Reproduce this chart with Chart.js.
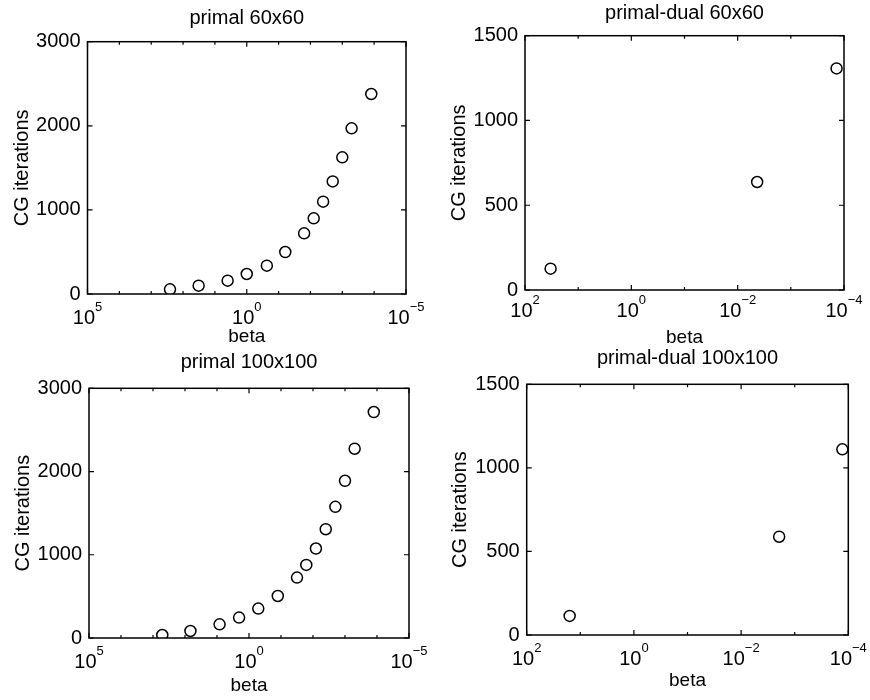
<!DOCTYPE html>
<html><head><meta charset="utf-8">
<script src="https://cdn.jsdelivr.net/npm/chart.js@4.4.0/dist/chart.umd.min.js"></script>
<style>
html,body{margin:0;padding:0;background:#fff;}
#wrap{position:relative;width:870px;height:700px;}
canvas{position:absolute;left:0;top:0;}
</style></head><body>
<div id="wrap">
<canvas id="c1" width="870" height="700"></canvas>
<canvas id="c2" width="870" height="700"></canvas>
<canvas id="c3" width="870" height="700"></canvas>
<canvas id="c4" width="870" height="700"></canvas>
</div>
<script>
// ---- data ----
const betaPrimal60 = [257, 32.4, 3.98, 1.0, 0.234, 0.0617, 0.0158, 0.0079, 0.0040, 0.0020, 0.0010, 0.00051, 0.000123];
const iterPrimal60 = [55, 99, 159, 238, 337, 499, 721, 900, 1098, 1339, 1625, 1970, 2378];
const betaPrimal100 = [513, 67.6, 8.3, 2.04, 0.513, 0.126, 0.0316, 0.0162, 0.0081, 0.0040, 0.0020, 0.0010, 0.0005, 0.000126];
const iterPrimal100 = [36, 84, 164, 245, 353, 505, 726, 878, 1075, 1307, 1576, 1889, 2274, 2715];
const betaPD60 = [33, 0.0043, 0.000138];
const iterPD60 = [126, 637, 1307];
const betaPD100 = [15.8, 0.00195, 0.000129];
const iterPD100 = [114, 588, 1111];

// ---- ticks ----
const xTicksPrimal = [1e5, 1e4, 1e3, 1e2, 1e1, 1e0, 1e-1, 1e-2, 1e-3, 1e-4, 1e-5];
const xLabelExpPrimal = [5, 0, -5];
const xTicksPD = [1e2, 1e1, 1e0, 1e-1, 1e-2, 1e-3, 1e-4];
const xLabelExpPD = [2, 0, -2, -4];
const yTicksPrimal = [0, 1000, 2000, 3000];
const yTicksPD = [0, 500, 1000, 1500];

// ---- titles ----
const titles = ['primal 60x60', 'primal-dual 60x60', 'primal 100x100', 'primal-dual 100x100'];
const yTitle = 'CG iterations';
const xTitle = 'beta';

const FONT = '"Liberation Sans", Arial, Helvetica, sans-serif';

const boxPlugin = {
  id: 'matlabBox',
  afterDraw(chart, args, opts) {
    const {ctx, chartArea: a} = chart;
    const xs = chart.scales.x, ys = chart.scales.y;
    ctx.save();
    ctx.strokeStyle = '#000';
    ctx.lineWidth = 1.5;
    ctx.strokeRect(a.left, a.top, a.right - a.left, a.bottom - a.top);
    ctx.lineWidth = 1.2;
    ctx.beginPath();
    xs.ticks.forEach(t => {
      const e = Math.round(Math.log10(t.value));
      const major = opts.labelExp.indexOf(e) >= 0;
      const px = xs.getPixelForValue(t.value);
      const len = major ? 5 : 3;
      ctx.moveTo(px, a.bottom); ctx.lineTo(px, a.bottom - len);
      ctx.moveTo(px, a.top); ctx.lineTo(px, a.top + len);
    });
    ys.ticks.forEach(t => {
      const py = ys.getPixelForValue(t.value);
      ctx.moveTo(a.left, py); ctx.lineTo(a.left + 5, py);
      ctx.moveTo(a.right, py); ctx.lineTo(a.right - 5, py);
    });
    ctx.stroke();
    ctx.fillStyle = '#000';
    ctx.textBaseline = 'alphabetic';
    ctx.textAlign = 'left';
    xs.ticks.forEach(t => {
      const e = Math.round(Math.log10(t.value));
      if (opts.labelExp.indexOf(e) < 0) return;
      const px = xs.getPixelForValue(t.value);
      const exp = (e < 0 ? '\u2212' + (-e) : String(e));
      ctx.font = '20px ' + FONT;
      const w1 = ctx.measureText('10').width;
      ctx.font = '13px ' + FONT;
      const w2 = ctx.measureText(exp).width;
      const x0 = px - (w1 + w2) / 2;
      const yb = a.bottom + opts.labelOffset;
      ctx.font = '20px ' + FONT;
      ctx.fillText('10', x0, yb);
      ctx.font = '13px ' + FONT;
      ctx.fillText(exp, x0 + w1, yb - 13);
    });
    ctx.restore();
  }
};

function makeChart(id, title, xs, ys, xTicks, labelExp, yTicks, L) {
  return new Chart(document.getElementById(id), {
    type: 'scatter',
    data: {
      datasets: [{
        data: xs.map((v, i) => ({x: v, y: ys[i]})),
        pointStyle: 'circle',
        pointRadius: 5.5,
        pointBorderWidth: 1.5,
        pointBorderColor: '#000',
        pointBackgroundColor: 'rgba(0,0,0,0)',
        showLine: false
      }]
    },
    options: {
      responsive: false,
      animation: false,
      events: [],
      layout: {padding: {left: L.l, top: L.t, right: L.r, bottom: L.b}},
      plugins: {
        legend: {display: false},
        tooltip: {enabled: false},
        title: {
          display: true, text: title, fullSize: false, color: '#000',
          font: {family: FONT, size: 20, weight: 'normal', lineHeight: 1},
          padding: {top: L.tpt, bottom: L.tpb}
        },
        matlabBox: {labelExp: labelExp, labelOffset: L.lo}
      },
      scales: {
        x: {
          type: 'logarithmic', reverse: true,
          min: xTicks[xTicks.length - 1], max: xTicks[0],
          afterBuildTicks: s => { s.ticks = xTicks.map(v => ({value: v})); },
          afterFit: s => { s.height = L.xh; },
          grid: {display: false, drawTicks: false},
          border: {display: false},
          ticks: {display: false},
          title: {display: true, text: xTitle, color: '#000',
            font: {family: FONT, size: 19, lineHeight: 1}, padding: {top: 0, bottom: L.xpb}}
        },
        y: {
          type: 'linear', min: yTicks[0], max: yTicks[yTicks.length - 1],
          afterBuildTicks: s => { s.ticks = yTicks.map(v => ({value: v})); },
          afterFit: s => { s.width = L.yw; },
          grid: {display: false, drawTicks: false},
          border: {display: false},
          ticks: {color: '#000', padding: 7, font: {family: FONT, size: 20}, autoSkip: false,
            callback: v => String(v)},
          title: {display: true, text: yTitle, color: '#000',
            font: {family: FONT, size: 20, lineHeight: 1}, padding: {top: L.ypt, bottom: 0}}
        }
      }
    },
    plugins: [boxPlugin]
  });
}

makeChart('c1', titles[0], betaPrimal60, iterPrimal60, xTicksPrimal, xLabelExpPrimal, yTicksPrimal,
  {l: 0, t: 0, r: 464, b: 345, yw: 87.5, xh: 61, tpt: 8.5, tpb: 13.2, ypt: 12.5, xpb: 8.5, lo: 30});
makeChart('c2', titles[1], betaPD60, iterPD60, xTicksPD, xLabelExpPD, yTicksPD,
  {l: 435, t: 0, r: 26, b: 345, yw: 90, xh: 65, tpt: 3.2, tpb: 12.5, ypt: 14.5, xpb: 8, lo: 27});
makeChart('c3', titles[2], betaPrimal100, iterPrimal100, xTicksPrimal, xLabelExpPrimal, yTicksPrimal,
  {l: 0, t: 345, r: 461, b: 0, yw: 89, xh: 62, tpt: 7, tpb: 16.3, ypt: 13.5, xpb: 4.5, lo: 30});
makeChart('c4', titles[3], betaPD100, iterPD100, xTicksPD, xLabelExpPD, yTicksPD,
  {l: 435, t: 345, r: 21.7, b: 0, yw: 91.7, xh: 65, tpt: 3, tpb: 16.3, ypt: 15.5, xpb: 9.5, lo: 30});
</script>
</body></html>
